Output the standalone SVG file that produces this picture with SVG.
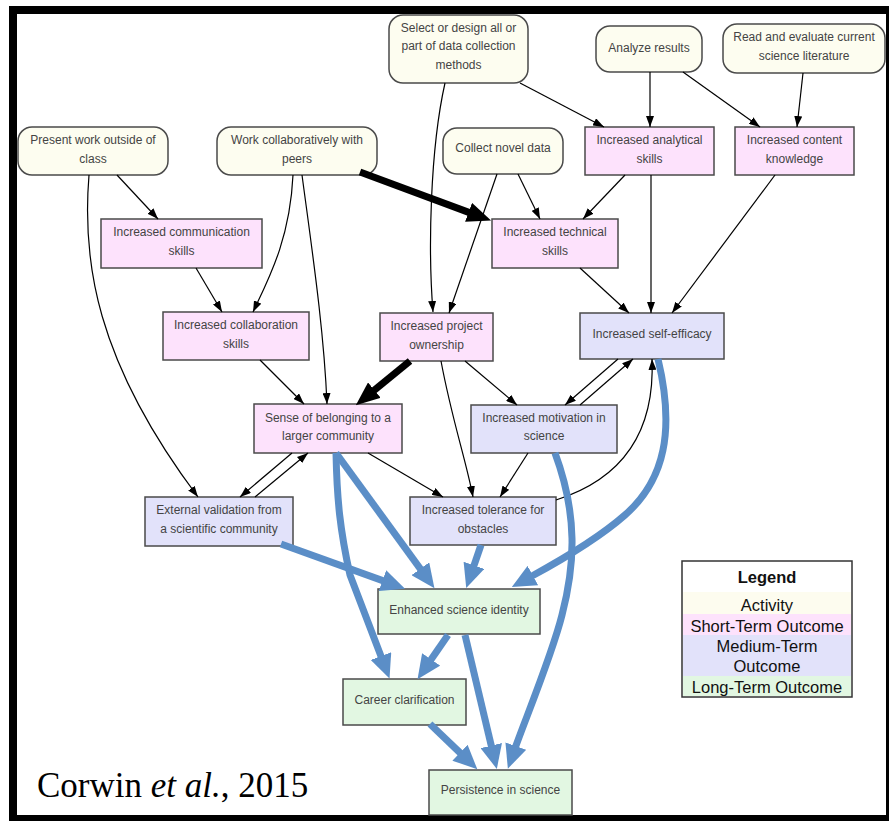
<svg xmlns="http://www.w3.org/2000/svg" width="889" height="821" viewBox="0 0 889 821">
<style>
.box{stroke:#4a4a4a;stroke-width:1.5}
.act{fill:#fdfdf0}
.st{fill:#fde2fc}
.mt{fill:#e2e2fa}
.lt{fill:#e2f7e2}
.lbl{font-family:"Liberation Sans",Arial,sans-serif;font-size:12px;fill:#444;text-anchor:middle}
.e{fill:none;stroke:#000;stroke-width:1.2;marker-end:url(#ah)}
.ek{fill:none;stroke:#000;stroke-width:7;marker-end:url(#ahk)}
.eb{fill:none;stroke:#5b8ec7;stroke-width:7;marker-end:url(#ahb)}
.lg{font-family:"Liberation Sans",Arial,sans-serif;font-size:16.5px;fill:#111;text-anchor:middle}
</style>
<defs>
<marker id="ah" viewBox="0 0 11 8" refX="11" refY="4" markerWidth="11" markerHeight="8" markerUnits="userSpaceOnUse" orient="auto"><path d="M0,0 L11,4 L0,8 z" fill="#000"/></marker>
<marker id="ahk" viewBox="0 0 24 20" refX="1" refY="10" markerWidth="24" markerHeight="20" markerUnits="userSpaceOnUse" orient="auto"><path d="M0,0 L24,10 L0,20 z" fill="#000"/></marker>
<marker id="ahb" viewBox="0 0 24 22" refX="1" refY="11" markerWidth="24" markerHeight="22" markerUnits="userSpaceOnUse" orient="auto"><path d="M0,0 L24,11 L0,22 z" fill="#5b8ec7"/></marker>
</defs>
<rect x="0" y="0" width="889" height="821" fill="#fff"/>
<rect x="13" y="10" width="877" height="809" fill="none" stroke="#000" stroke-width="8"/>

<g id="n-select"><rect class="box act" x="389" y="15" width="139" height="68" rx="14"/><text class="lbl" x="458.5" y="31.5">Select or design all or</text><text class="lbl" x="458.5" y="50">part of data collection</text><text class="lbl" x="458.5" y="69">methods</text></g>
<g id="n-analyze"><rect class="box act" x="596" y="26" width="106" height="46" rx="14"/><text class="lbl" x="649" y="52">Analyze results</text></g>
<g id="n-read"><rect class="box act" x="723" y="24" width="162" height="49" rx="14"/><text class="lbl" x="804" y="41">Read and evaluate current</text><text class="lbl" x="804" y="60">science literature</text></g>
<g id="n-present"><rect class="box act" x="18" y="127" width="150" height="48" rx="14"/><text class="lbl" x="93" y="144">Present work outside of</text><text class="lbl" x="93" y="163">class</text></g>
<g id="n-work"><rect class="box act" x="217" y="127" width="160" height="48" rx="14"/><text class="lbl" x="297" y="144">Work collaboratively with</text><text class="lbl" x="297" y="163">peers</text></g>
<g id="n-collect"><rect class="box act" x="443" y="128" width="120" height="46" rx="14"/><text class="lbl" x="503" y="152">Collect novel data</text></g>

<g id="n-analytical"><rect class="box st" x="585" y="127" width="129" height="48"/><text class="lbl" x="649.5" y="144">Increased analytical</text><text class="lbl" x="649.5" y="163">skills</text></g>
<g id="n-content"><rect class="box st" x="735" y="127" width="119" height="48"/><text class="lbl" x="794.5" y="144">Increased content</text><text class="lbl" x="794.5" y="163">knowledge</text></g>
<g id="n-communication"><rect class="box st" x="101" y="219" width="161" height="49"/><text class="lbl" x="181.5" y="236">Increased communication</text><text class="lbl" x="181.5" y="255">skills</text></g>
<g id="n-technical"><rect class="box st" x="492" y="219" width="126" height="49"/><text class="lbl" x="555" y="236">Increased technical</text><text class="lbl" x="555" y="255">skills</text></g>
<g id="n-collaboration"><rect class="box st" x="163" y="312" width="146" height="48"/><text class="lbl" x="236" y="329">Increased collaboration</text><text class="lbl" x="236" y="348">skills</text></g>
<g id="n-ownership"><rect class="box st" x="380" y="313" width="113" height="48"/><text class="lbl" x="436.5" y="329.5">Increased project</text><text class="lbl" x="436.5" y="348.5">ownership</text></g>
<g id="n-belonging"><rect class="box st" x="254" y="404" width="148" height="49"/><text class="lbl" x="328" y="421.5">Sense of belonging to a</text><text class="lbl" x="328" y="440">larger community</text></g>

<g id="n-selfefficacy"><rect class="box mt" x="580" y="313" width="144" height="46"/><text class="lbl" x="652" y="337.5">Increased self-efficacy</text></g>
<g id="n-motivation"><rect class="box mt" x="471" y="405" width="146" height="48"/><text class="lbl" x="544" y="421.5">Increased motivation in</text><text class="lbl" x="544" y="440">science</text></g>
<g id="n-external"><rect class="box mt" x="145" y="497" width="148" height="49"/><text class="lbl" x="219" y="514">External validation from</text><text class="lbl" x="219" y="532.5">a scientific community</text></g>
<g id="n-tolerance"><rect class="box mt" x="410" y="497" width="146" height="48"/><text class="lbl" x="483" y="514">Increased tolerance for</text><text class="lbl" x="483" y="532.5">obstacles</text></g>

<g id="n-identity"><rect class="box lt" x="378" y="589" width="162" height="45"/><text class="lbl" x="459" y="614">Enhanced science identity</text></g>
<g id="n-career"><rect class="box lt" x="343" y="679" width="123" height="46"/><text class="lbl" x="404.5" y="704">Career clarification</text></g>
<g id="n-persistence"><rect class="box lt" x="429" y="770" width="143" height="45"/><text class="lbl" x="500.5" y="794">Persistence in science</text></g>

<g id="connectors">
<path class="e" d="M117,175 L158,219"/>
<path class="e" d="M89,175 C82,260 95,360 198,497"/>
<path class="e" d="M293,175 C290,240 268,280 253,312"/>
<path class="e" d="M302,175 C312,250 324,330 327,404"/>
<path class="e" d="M445,83 C430,150 428,250 433,312"/>
<path class="e" d="M520,83 L604,127"/>
<path class="e" d="M650,72 L650,127"/>
<path class="e" d="M683,72 L760,127"/>
<path class="e" d="M803,73 L797,127"/>
<path class="e" d="M518,174 L540,219"/>
<path class="e" d="M497,174 L449,313"/>
<path class="e" d="M625,175 L583,219"/>
<path class="e" d="M651,175 L651,313"/>
<path class="e" d="M775,175 L672,313"/>
<path class="e" d="M580,268 L629,313"/>
<path class="e" d="M196,268 L222,312"/>
<path class="e" d="M260,360 L304,404"/>
<path class="e" d="M465,361 L517,405"/>
<path class="e" d="M441,361 C452,420 466,460 473,497"/>
<path class="e" d="M618,359 L565,405"/>
<path class="e" d="M580,405 L633,359"/>
<path class="e" d="M528,453 L500,497"/>
<path class="e" d="M556,500 C625,478 655,430 652,359"/>
<path class="e" d="M368,453 L443,497"/>
<path class="e" d="M292,453 L240,497"/>
<path class="e" d="M255,497 L308,453"/>
<path class="ek" d="M360,172 L469.5,212.6"/>
<path class="ek" d="M410,361 L373.6,390.8"/>
<path class="eb" d="M658,359 C675,430 665,480 625,515 C600,537 565,558 532,576"/>
<path class="eb" d="M555,453 C578,515 575,565 562,615 C552,655 525,720 515.5,747"/>
<path class="eb" d="M336,453 C337,500 340,530 350,575 L381.3,657"/>
<path class="eb" d="M336,453 L420.9,569.6"/>
<path class="eb" d="M281,544 L383.4,580.9"/>
<path class="eb" d="M481,545 L473.7,566.3"/>
<path class="eb" d="M448,635 L430.6,660.2"/>
<path class="eb" d="M465,635 L491.5,746.6"/>
<path class="eb" d="M430,724 L460.7,753.4"/>
</g>

<g id="legend">
<rect x="682" y="561" width="170" height="136" fill="#fff" stroke="#333" stroke-width="1.5"/>
<rect x="683" y="592" width="168" height="22" fill="#fdfcef"/>
<rect x="683" y="614" width="168" height="21" fill="#fde2fc"/>
<rect x="683" y="635" width="168" height="41" fill="#e2e2fa"/>
<rect x="683" y="676" width="168" height="20" fill="#e2f7e2"/>
<text class="lg" x="767" y="583" font-weight="bold" font-size="19">Legend</text>
<text class="lg" x="767" y="611">Activity</text>
<text class="lg" x="767" y="632">Short-Term Outcome</text>
<text class="lg" x="767" y="652">Medium-Term</text>
<text class="lg" x="767" y="672">Outcome</text>
<text class="lg" x="767" y="693">Long-Term Outcome</text>
</g>

<text x="37" y="797" font-family="'Liberation Serif','Times New Roman',serif" font-size="35" fill="#000">Corwin <tspan font-style="italic">et al.</tspan>, 2015</text>
</svg>
